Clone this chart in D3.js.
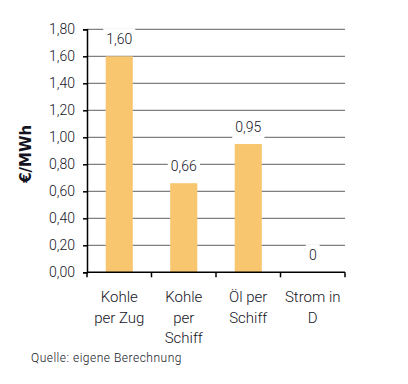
<!DOCTYPE html>
<html>
<head>
<meta charset="utf-8">
<script src="https://cdn.jsdelivr.net/npm/d3@7"></script>
<style>
  body { margin: 0; background: #fff; }
  svg text { font-family: Roboto, "DejaVu Sans", sans-serif; font-weight: 300; fill: #14141e; }
</style>
</head>
<body>
<div id="chart"></div>
<script>
// Transportkosten je MWh
const categories = ["Kohle per Zug", "Kohle per Schiff", "Öl per Schiff", "Strom in D"];
const categoryLines = [["Kohle", "per Zug"], ["Kohle", "per", "Schiff"], ["Öl per", "Schiff"], ["Strom in", "D"]];
const values = [1.60, 0.66, 0.95, 0];
const yTicks = [0, 0.2, 0.4, 0.6, 0.8, 1.0, 1.2, 1.4, 1.6, 1.8];
const yTitle = "€/MWh";
const source = "Quelle: eigene Berechnung";

const width = 408, height = 384;
const margin = { top: 29.3, right: 63, bottom: 111.7, left: 87 };

const de = d3.formatLocale({ decimal: ",", thousands: ".", grouping: [3], currency: ["", " €"] });
const fmt = de.format(".2f");

const svg = d3.select("#chart").append("svg")
    .attr("width", width)
    .attr("height", height);

const x = d3.scaleBand()
    .domain(categories)
    .range([margin.left, width - margin.right])
    .padding(0);

const y = d3.scaleLinear()
    .domain([0, 1.8])
    .range([height - margin.bottom, margin.top]);

// gridlines
svg.append("g")
    .selectAll("line")
    .data(yTicks.filter(d => d > 0))
    .enter()
    .append("line")
    .attr("x1", margin.left)
    .attr("x2", width - margin.right)
    .attr("y1", d => y(d))
    .attr("y2", d => y(d))
    .attr("stroke", "#808080")
    .attr("stroke-width", 1.3);

const barW = x.bandwidth() * 0.42;

// bars
svg.append("g")
    .selectAll("rect")
    .data(values)
    .enter()
    .append("rect")
    .attr("x", (d, i) => x(categories[i]) + (x.bandwidth() - barW) / 2)
    .attr("y", d => y(d))
    .attr("width", barW)
    .attr("height", d => y(0) - y(d))
    .attr("fill", "#f8c66f");

// value labels with white box
const lab = svg.append("g")
    .selectAll("g")
    .data(values)
    .enter()
    .append("g")
    .attr("transform", (d, i) => `translate(${x(categories[i]) + x.bandwidth() / 2},${y(d) - 12})`);

lab.append("text")
    .attr("text-anchor", "middle")
    .style("font-size", "14px")
    .text(d => d === 0 ? "0" : fmt(d));

lab.each(function() {
    const g = d3.select(this);
    const bb = g.select("text").node().getBBox();
    g.insert("rect", "text")
        .attr("x", bb.x - 3)
        .attr("y", -16)
        .attr("width", bb.width + 6)
        .attr("height", 22)
        .attr("fill", "#fff");
});

// y axis
const yAxis = svg.append("g")
    .attr("transform", `translate(${margin.left},0)`)
    .call(d3.axisLeft(y).tickValues(yTicks).tickSize(4).tickPadding(8).tickFormat(fmt));
yAxis.select(".domain").attr("stroke", "#000").attr("stroke-width", 1.5);
yAxis.selectAll(".tick line").attr("stroke", "#000").attr("stroke-width", 1.5);
yAxis.selectAll(".tick text").style("font-size", "14px").attr("fill", "#14141e");

// x axis with ticks at band edges
const xEdges = categories.map(c => x(c)).concat([x.range()[1]]);
const xAxis = svg.append("g");
xAxis.append("line")
    .attr("x1", margin.left)
    .attr("x2", width - margin.right)
    .attr("y1", y(0))
    .attr("y2", y(0))
    .attr("stroke", "#000")
    .attr("stroke-width", 1.5);
xAxis.selectAll(".edge")
    .data(xEdges)
    .enter()
    .append("line")
    .attr("x1", d => d)
    .attr("x2", d => d)
    .attr("y1", y(0))
    .attr("y2", y(0) + 5)
    .attr("stroke", "#000")
    .attr("stroke-width", 1.5);

const catText = xAxis.selectAll(".cat")
    .data(categories)
    .enter()
    .append("text")
    .attr("text-anchor", "middle")
    .attr("x", d => x(d) + x.bandwidth() / 2)
    .attr("y", y(0) + 30)
    .style("font-size", "15px");
catText.selectAll("tspan")
    .data((d, i) => categoryLines[i])
    .enter()
    .append("tspan")
    .attr("x", function() { return this.parentNode.getAttribute("x"); })
    .attr("dy", (d, i) => i === 0 ? 0 : 20.5)
    .text(d => d);

// y title
svg.append("text")
    .attr("transform", `translate(31,${(y(0) + y(1.8)) / 2 + 3}) rotate(-90)`)
    .attr("text-anchor", "middle")
    .style("font-size", "15px")
    .style("font-weight", "bold")
    .style("font-family", "'DejaVu Sans', sans-serif")
    .attr("fill", "#000")
    .text(yTitle);

// source
svg.append("text")
    .attr("x", 31)
    .attr("y", 362)
    .style("font-size", "12px")
    .style("letter-spacing", "0.5px")
    .text(source);
</script>
</body>
</html>
